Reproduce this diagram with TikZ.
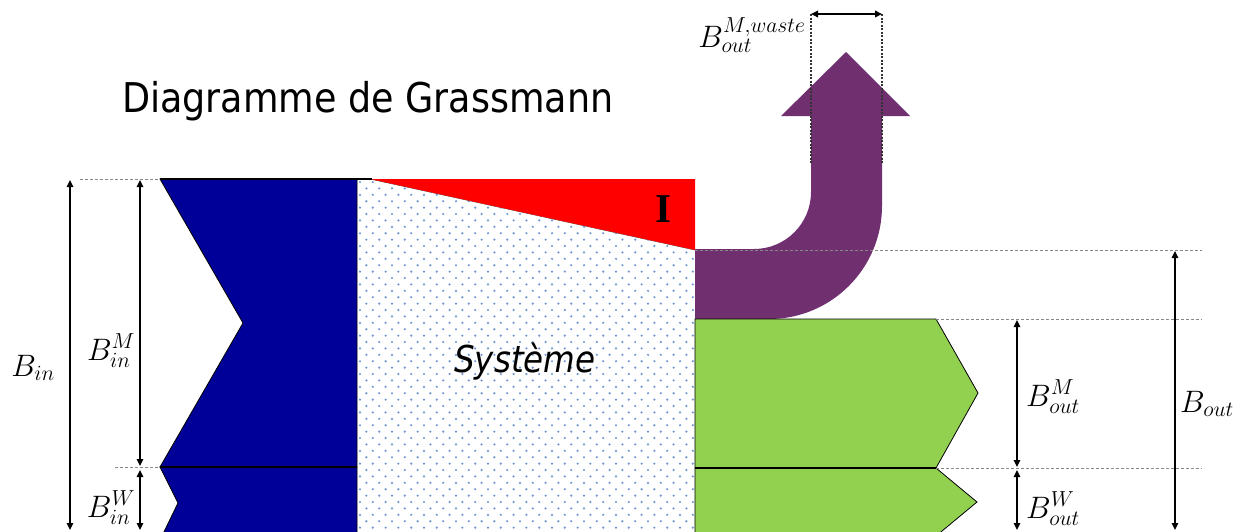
\RequirePackage{fix-cm}
\documentclass[tikz,border=0pt]{standalone}
\usepackage{fontspec}
\newfontfamily\titlefont{DejaVu Sans}
\newfontfamily\sysfont{DejaVu Sans}
\newfontfamily\romfont{Liberation Serif}
\usetikzlibrary{arrows.meta}
\definecolor{inblue}{RGB}{0,0,153}
\definecolor{outgreen}{RGB}{146,208,80}
\definecolor{wastepurple}{RGB}{112,48,112}
\definecolor{irred}{RGB}{255,0,0}
\definecolor{dotblue}{RGB}{110,150,210}
\definecolor{guidegray}{RGB}{135,135,135}
\begin{document}
\begin{tikzpicture}[x=1pt,y=-1pt,
  outl/.style={draw=black,line width=0.8pt,line join=miter},
  guide/.style={draw=guidegray,line width=1pt,dash pattern=on 3pt off 2pt},
  wguide/.style={draw=black!80,line width=1.3pt,dash pattern=on 2pt off 1.5pt},
  sep/.style={draw=black,line width=2.2pt},
  dim/.style={line width=1.4pt,{Triangle[length=7pt,width=6.5pt]}-{Triangle[length=7pt,width=6.5pt]}},
  lab/.style={font=\fontsize{31}{34}\selectfont,inner sep=0pt}]
\useasboundingbox (0,0) rectangle (1241,531);
\clip (0,0) rectangle (1241,531);

% ---------- title
\node[anchor=base west,inner sep=0pt] (title) at (122,112)
  {\scalebox{0.89}[1]{\titlefont\fontsize{41}{46}\selectfont Diagramme de Grassmann}};

% ---------- system (dotted)
\fill[white] (357,179) -- (370,179) -- (695,250) -- (695,540) -- (357,540) -- cycle;
\begin{scope}
  \clip (357,179) -- (370,179) -- (695,250) -- (695,540) -- (357,540) -- cycle;
  \foreach \r in {0,...,56}{
    \pgfmathsetmacro\off{mod(\r,2)*6.4}
    \foreach \c in {0,...,27}{
      \fill[dotblue] (360+\off+\c*12.8, 182+\r*6.4) circle[radius=1.2pt];
    }
  }
\end{scope}
\draw[draw=gray!80,line width=0.8pt] (695,250) -- (695,540);
\draw[draw=black!70,line width=0.6pt] (370,179) -- (695,250);

% ---------- irreversibility triangle
\fill[irred] (370,179) -- (695,179) -- (695,250) -- cycle;
\node[inner sep=0pt] (irr) at (663,209) {\romfont\bfseries\fontsize{41}{44}\selectfont I};

% ---------- inputs (blue)
\path[outl,fill=inblue] (160,179) -- (357,179) -- (357,467) -- (160,467) -- (243,323) -- cycle;
\path[outl,fill=inblue] (160,467) -- (357,467) -- (357,540) -- (160,540) -- (178,503) -- cycle;
\draw[sep] (160,467) -- (357,467);
\draw[draw=black,line width=1.2pt] (160,179) -- (372,179);

% ---------- waste (purple)
\fill[wastepurple] (695,249) -- (754,249)
  .. controls (785.5,249) and (811,223.5) .. (811,192)
  -- (811,116) -- (781,116) -- (846,52) -- (910,116) -- (882,116)
  -- (882,206) .. controls (882,268.4) and (831.4,319) .. (769,319)
  -- (695,319) -- cycle;

% ---------- outputs (green)
\path[outl,fill=outgreen] (695,319) -- (936,319) -- (978,393) -- (936,468) -- (695,468) -- cycle;
\path[outl,fill=outgreen] (695,468) -- (936,468) -- (977,502) -- (936,536) -- (695,536) -- cycle;
\draw[sep] (695,468) -- (936,468);

% ---------- guide lines
\coordinate (gTopL) at (80,179);   \coordinate (gTopR) at (160,179);
\coordinate (gMidL) at (115,467);  \coordinate (gMidR) at (160,467);
\coordinate (gP1) at (695,250);    \coordinate (gP2) at (1202,250);
\coordinate (gG1) at (936,319);    \coordinate (gG2) at (1202,319);
\coordinate (gH1) at (936,468);    \coordinate (gH2) at (1202,468);
\draw[guide] (gTopL) -- (gTopR);
\draw[guide] (gMidL) -- (gMidR);
\draw[guide] (gP1) -- (gP2);
\draw[guide] (gG1) -- (gG2);
\draw[guide] (gH1) -- (gH2);

\coordinate (wL1) at (811,14);  \coordinate (wL2) at (811,163);
\coordinate (wR1) at (882,14);  \coordinate (wR2) at (882,163);
\draw[wguide] (wL1) -- (wL2);
\draw[wguide] (wR1) -- (wR2);

% ---------- dimension arrows
\coordinate (binT) at (70,180);   \coordinate (binB) at (70,530);
\coordinate (bmT) at (140,180);   \coordinate (bmB) at (140,466);
\coordinate (bwT) at (140,470);   \coordinate (bwB) at (140,530);
\coordinate (boT) at (1175,251);  \coordinate (boB) at (1175,530);
\coordinate (omT) at (1017,320);  \coordinate (omB) at (1017,467);
\coordinate (owT) at (1017,470);  \coordinate (owB) at (1017,530);
\draw[dim] (binT) -- (binB);
\draw[dim] (bmT) -- (bmB);
\draw[dim] (bwT) -- (bwB);
\draw[dim] (boT) -- (boB);
\draw[dim] (omT) -- (omB);
\draw[dim] (owT) -- (owB);
\draw[dim,line width=1.8pt] (wL1) -- (wR1);

% ---------- labels
\node[inner sep=0pt,anchor=base] (sys) at (525,372)
  {\scalebox{0.88}[1]{\sysfont\itshape\fontsize{37}{42}\selectfont Système}};
\node[lab] (lBin) at (33,368) {$B_{in}$};
\node[lab] (lBinM) at (111,351) {$B_{in}^{M}$};
\node[lab] (lBinW) at (111,508) {$B_{in}^{W}$};
\node[lab] (lBoutM) at (1053,397) {$B_{out}^{M}$};
\node[lab] (lBoutW) at (1053,509) {$B_{out}^{W}$};
\node[lab] (lBout) at (1207,404) {$B_{out}$};
\node[lab] (lWaste) at (752,35) {$B_{out}^{M,waste}$};
\end{tikzpicture}
\end{document}
